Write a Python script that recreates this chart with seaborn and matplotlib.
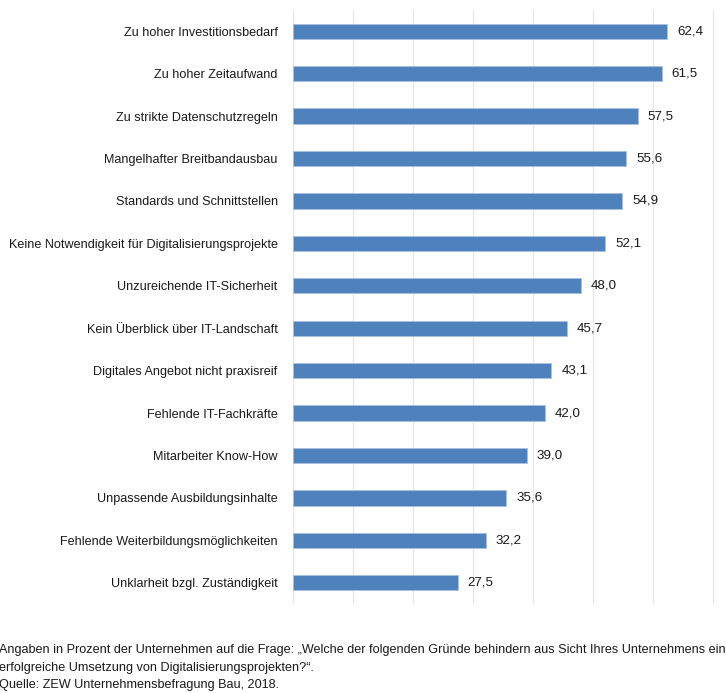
import matplotlib
matplotlib.use("Agg")
import matplotlib.pyplot as plt
import seaborn as sns
import pandas as pd

categories = [
    "Zu hoher Investitionsbedarf",
    "Zu hoher Zeitaufwand",
    "Zu strikte Datenschutzregeln",
    "Mangelhafter Breitbandausbau",
    "Standards und Schnittstellen",
    "Keine Notwendigkeit für Digitalisierungsprojekte",
    "Unzureichende IT-Sicherheit",
    "Kein Überblick über IT-Landschaft",
    "Digitales Angebot nicht praxisreif",
    "Fehlende IT-Fachkräfte",
    "Mitarbeiter Know-How",
    "Unpassende Ausbildungsinhalte",
    "Fehlende Weiterbildungsmöglichkeiten",
    "Unklarheit bzgl. Zuständigkeit",
]
values = [62.4, 61.5, 57.5, 55.6, 54.9, 52.1, 48.0, 45.7, 43.1, 42.0, 39.0, 35.6, 32.2, 27.5]
footnote_lines = [
    "Angaben in Prozent der Unternehmen auf die Frage: „Welche der folgenden Gründe behindern aus Sicht Ihres Unternehmens eine",
    "erfolgreiche Umsetzung von Digitalisierungsprojekten?“.",
    "Quelle: ZEW Unternehmensbefragung Bau, 2018.",
]

df = pd.DataFrame({"Grund": categories, "Wert": values})

sns.set_theme(style="white")
plt.rcParams["font.family"] = ["Liberation Sans", "DejaVu Sans"]

W, H = 726, 693
fig = plt.figure(figsize=(W / 100, H / 100), dpi=100)
x0 = 292.7
px_per_unit = 6.0
ax = fig.add_axes([x0 / W, 89 / H, (W - x0) / W, 594 / H])

sns.barplot(data=df, y="Grund", x="Wert", orient="h", color="#4f81bd",
            width=0.36, edgecolor="#a9c1e0", linewidth=0.6, saturation=1, ax=ax)

ax.set_xlim(0, (W - x0) / px_per_unit)
ax.set_ylim(len(categories) - 0.5, -0.5)
ax.set_xticks(range(0, 80, 10))
ax.xaxis.grid(True, color="#e6e6e6", linewidth=0.9)
ax.set_axisbelow(True)
ax.tick_params(axis="x", bottom=False, labelbottom=False)
ax.tick_params(axis="y", left=False, pad=4.8, labelsize=9.1, labelcolor="#1a1a1a")
ax.set_xlabel("")
ax.set_ylabel("")
for s in ax.spines.values():
    s.set_visible(False)

for i, v in enumerate(values):
    ax.annotate(f"{v:.1f}".replace(".", ","), xy=(v, i), xytext=(10, 0),
                textcoords="offset pixels", va="center", ha="left",
                fontsize=9.6, color="#1a1a1a")

ys = [650, 668, 685]
for y, line in zip(ys, footnote_lines):
    fig.text(-1 / W, 1 - y / H, line, ha="left", va="center", fontsize=9.1, color="#1a1a1a")

fig.savefig("out.png", dpi=100)
